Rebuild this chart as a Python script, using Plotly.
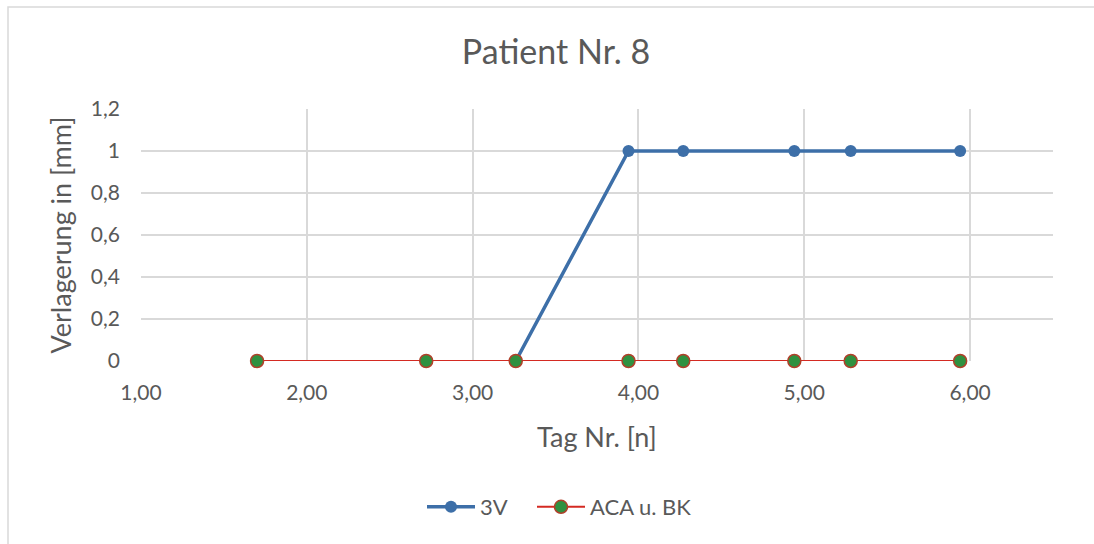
import plotly.graph_objects as go

# Measurement days and displacement values
tage = [1.70, 2.72, 3.26, 3.94, 4.27, 4.94, 5.28, 5.94]
tage_3v = [3.26, 3.94, 4.27, 4.94, 5.28, 5.94]
werte_3v = [0, 1, 1, 1, 1, 1]
werte_aca = [0, 0, 0, 0, 0, 0, 0, 0]

FONT = "Lato"
GRAU = "#595959"
GITTER = "#d9d9d9"

fig = go.Figure()

fig.add_trace(go.Scatter(
    x=tage_3v, y=werte_3v, name="3V", mode="lines+markers",
    line=dict(color="#3d6fa8", width=3.5),
    marker=dict(color="#3d6fa8", size=12),
    cliponaxis=False, legend="legend",
))
fig.add_trace(go.Scatter(
    x=tage, y=werte_aca, name="ACA u. BK", mode="lines+markers",
    line=dict(color="#d42a22", width=2),
    marker=dict(color="#2f9140", size=13, line=dict(color="#b0402a", width=1.5)),
    cliponaxis=False, legend="legend2",
))

L, R, T, B = 141, 41, 109, 183
PW, PH = 1094 - L - R, 544 - T - B

legend_style = dict(
    orientation="h", xanchor="left", y=(361 - 507) / PH, yanchor="middle",
    font=dict(size=22, color=GRAU), itemwidth=48, bgcolor="rgba(0,0,0,0)",
)

fig.update_layout(
    width=1094, height=544,
    margin=dict(l=L, r=R, t=T, b=B, autoexpand=False),
    paper_bgcolor="white", plot_bgcolor="white",
    separators=",.",
    font=dict(family=FONT, size=21, color=GRAU),
    title=dict(text="Patient Nr. 8", x=556 / 1094, xanchor="center",
               y=1 - 52 / 544, yanchor="middle",
               font=dict(family=FONT, size=34, color=GRAU)),
    xaxis=dict(
        range=[1, 6.5], tickvals=[1, 2, 3, 4, 5, 6], tickformat=".2f",
        showgrid=True, gridcolor=GITTER, gridwidth=1.5,
        showline=False, zeroline=False, ticks="",
        ticklabelstandoff=17,
        title=dict(text="Tag Nr. [n]", standoff=25, font=dict(size=27, color=GRAU)),
    ),
    yaxis=dict(
        range=[0, 1.2], dtick=0.2,
        showgrid=True, gridcolor=GITTER, gridwidth=1.5,
        showline=False, zeroline=False, ticks="", ticklabelstandoff=20,
        title=dict(text="Verlagerung in [mm]", standoff=11, font=dict(size=27, color=GRAU)),
    ),
    showlegend=True,
    legend=dict(x=(422 - L) / PW, **legend_style),
    legend2=dict(x=(532 - L) / PW, **legend_style),
)

# Chart frame (top and left edges visible)
fig.add_shape(type="rect", xref="paper", yref="paper",
              x0=(8 - L) / PW, x1=1.2, y0=-1.0, y1=(361 - 7) / PH,
              line=dict(color="#d9d9d9", width=1.5), layer="below")

fig.write_html("out.html")
